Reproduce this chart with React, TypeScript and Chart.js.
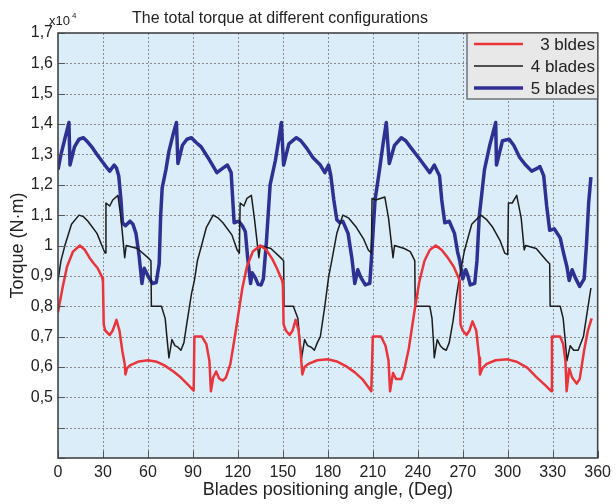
import React, { useEffect, useRef } from "react";
import { Chart, registerables } from "chart.js";

Chart.register(...registerables);

// Values in units of 10^4 N·m
const threeBladeAngles = [
  0, 3, 6, 10, 14.6, 18, 21, 24, 26.5, 29.5, 30, 30.5, 31.5, 34.5, 36.5, 39, 41, 43, 44.5, 45, 46, 48, 54, 60, 66, 71, 77, 82, 87, 90.5,
  91, 96, 99, 101, 102, 103.5, 105.5, 107.5, 110, 112, 115, 118, 120.5, 123, 126, 130, 135, 139, 143, 146, 149.5, 150, 150.5, 152, 154.5,
  156.5, 158.5, 160.5, 162, 163, 164.5, 167, 173, 180, 186, 192, 198, 203, 209, 210, 215.5, 218.5, 220.5, 221.5, 223.5, 225.5, 229, 231,
  234, 238, 241, 244.5, 248, 252, 256, 260, 264, 268, 268.5, 270, 272.5, 274.5, 276.5, 279, 281, 281.5, 283, 286, 292, 300, 306, 313,
  319.5, 325, 329, 329.5, 335, 337, 338.5, 339.3, 341, 343, 346, 348, 351, 353.5, 356,
];
const threeBladeTorque = [
  0.78, 0.86, 0.93, 0.98, 1.0, 0.985, 0.96, 0.94, 0.925, 0.895, 0.88, 0.74, 0.72, 0.705, 0.72, 0.755, 0.72, 0.65, 0.61, 0.575, 0.595, 0.605,
  0.618, 0.622, 0.617, 0.605, 0.585, 0.565, 0.54, 0.522,
  0.7, 0.7, 0.675, 0.62, 0.52, 0.565, 0.585, 0.562, 0.555, 0.565, 0.61, 0.7, 0.78, 0.86, 0.93, 0.98, 1.0, 0.985, 0.955, 0.925, 0.885, 0.87,
  0.74, 0.72, 0.705,
  0.72, 0.755, 0.72, 0.64, 0.575, 0.6, 0.61, 0.622, 0.625, 0.618, 0.603, 0.582, 0.56, 0.52, 0.7, 0.7, 0.67, 0.62, 0.52, 0.58, 0.56, 0.56,
  0.59,
  0.66, 0.79, 0.88, 0.95, 0.985, 1.0, 0.985, 0.96, 0.93, 0.885, 0.74, 0.72, 0.705, 0.72, 0.75, 0.72, 0.63, 0.575, 0.595, 0.61, 0.622, 0.625,
  0.617, 0.598,
  0.565, 0.54, 0.52, 0.7, 0.7, 0.675, 0.62, 0.52, 0.595, 0.565, 0.545, 0.56, 0.655, 0.72, 0.76,
];

const fourBladeAngles = [
  0, 2, 4.6, 9, 14, 17, 20, 26, 30.5, 31.5, 32, 34.5, 36.5, 40, 42, 44.5, 45.5, 53, 60, 62, 62.3, 69, 71.5, 73, 74, 76, 78, 80, 82, 84, 86,
  89, 91, 93, 95.5, 99, 103.5, 107, 110, 116, 119.5, 121, 121.5, 124, 126, 129, 131, 134, 135, 142, 148.5, 150.5, 150.8, 157, 160, 161.5,
  162.5, 164.5, 166.5, 169, 171, 173, 175, 178, 180.5, 183, 186, 190, 194, 199, 204, 207, 209, 209.5, 212, 215, 218, 220.5, 223.5, 224.5,
  231, 235, 238, 238.3, 248, 249.5, 250.5, 251, 253, 255, 257, 259, 261, 263.5, 266, 268, 271, 276, 282, 286, 290, 295, 298, 300, 300.5,
  303, 306, 309, 311, 312, 319, 326, 328, 328.3, 335, 337, 338.5, 339.5, 341.7, 344, 347, 350.5, 353, 355.5,
];
const fourBladeTorque = [
  0.885, 0.95, 1.0, 1.07, 1.1, 1.095, 1.08, 1.04, 0.985, 0.975, 1.14, 1.13, 1.15, 1.165, 1.09, 0.96, 1.0, 0.99, 0.96, 0.95, 0.8, 0.8, 0.76,
  0.68, 0.63, 0.69, 0.67, 0.665, 0.655, 0.68, 0.745,
  0.84, 0.885, 0.95, 0.995, 1.06, 1.1, 1.09, 1.075, 1.035, 0.985, 0.975, 1.14, 1.13, 1.155, 1.165, 1.09, 0.96, 1.0, 0.99, 0.96, 0.95, 0.8,
  0.8, 0.76, 0.68,
  0.63, 0.69, 0.67, 0.665, 0.655, 0.68, 0.7, 0.8, 0.895, 0.96, 1.04, 1.1, 1.09, 1.06, 1.02, 0.985, 0.975, 1.155, 1.15, 1.155, 1.16, 1.09,
  0.96, 1.0,
  0.99, 0.98, 0.95, 0.8, 0.8, 0.76, 0.68, 0.63, 0.69, 0.67, 0.66, 0.655, 0.68, 0.75, 0.84, 0.9, 0.98, 1.07, 1.1, 1.085, 1.06, 1.015, 0.975,
  0.97, 1.14,
  1.14, 1.165, 1.09, 0.985, 1.0, 0.99, 0.95, 0.94, 0.8, 0.8, 0.76, 0.68, 0.62, 0.67, 0.655, 0.655, 0.7, 0.78, 0.86,
];

const fiveBladeAngles = [
  0, 2, 4.5, 7.3, 8, 11, 14, 17, 20, 22.5, 26, 29, 32, 34.5, 37.5, 39, 40.5, 42, 43, 45, 48, 50, 52, 54, 55.5, 56, 57.5, 59, 60.5, 63, 65.5,
  67.5, 68.5, 69.5, 72, 74, 77, 79, 80, 83, 86, 89, 92, 95.5, 100, 106, 110, 113, 115.5, 117.5, 120.5, 123, 125, 126.5, 128.5, 129.5, 131.5,
  133.5, 135.5, 137, 139, 141.5, 145, 147, 149, 150.5, 154, 159, 162, 166, 170, 175, 178, 180.5, 182, 184, 186, 188, 190, 193.5, 196, 198,
  200, 202, 205, 208, 209, 211.5, 214.5, 217, 219, 221, 224.5, 229, 232, 235, 242, 248, 251, 254.5, 256, 258, 261, 264.5, 266.5, 268, 270,
  272, 273.5, 275, 278, 279.5, 281, 284.5, 288, 292, 292.5, 296.5, 301, 304, 308, 312, 316, 320, 321.5, 324, 326, 328, 331, 335, 337.5,
  339.5, 341, 343, 345, 348, 351, 352.5, 354, 355.5,
];
const fiveBladeTorque = [
  1.25, 1.3, 1.35, 1.405, 1.265, 1.325, 1.35, 1.355, 1.34, 1.325, 1.3, 1.28, 1.26, 1.245, 1.265, 1.255, 1.23, 1.15, 1.075, 1.065, 1.08, 1.07,
  1.04, 0.97, 0.9, 0.875, 0.925, 0.91, 0.895, 0.875, 0.878,
  0.94, 1.1, 1.19, 1.25, 1.31, 1.37, 1.405, 1.27, 1.33, 1.35, 1.355, 1.34, 1.325, 1.29, 1.24, 1.255, 1.265, 1.24, 1.075, 1.08, 1.065, 1.045,
  0.96, 0.875, 0.91, 0.895,
  0.872, 0.87, 0.89, 1.01, 1.2, 1.28, 1.34, 1.405, 1.265, 1.335, 1.355, 1.345, 1.32, 1.29, 1.265, 1.24, 1.265, 1.23, 1.15, 1.085, 1.075,
  1.08, 1.04, 0.96, 0.875,
  0.92, 0.895, 0.87, 0.875, 0.95, 1.15, 1.25, 1.34, 1.405, 1.27, 1.33, 1.355, 1.345, 1.325, 1.28, 1.24, 1.265, 1.23, 1.15, 1.075, 1.08, 1.04,
  0.98, 0.95, 0.89,
  0.92, 0.9, 0.87, 0.875, 0.95, 1.095, 1.25, 1.33, 1.405, 1.265, 1.345, 1.35, 1.33, 1.29, 1.265, 1.245, 1.255, 1.26, 1.23, 1.13, 1.05, 1.055,
  1.025, 0.97,
  0.93, 0.885, 0.92, 0.895, 0.865, 0.89, 1.0, 1.14, 1.225,
];

const seriesLabels = ["3 bldes", "4 blades", "5 blades"];
const seriesColors = ["#e8343a", "#1c1c1c", "#2e3192"];
const seriesWidths = [2.5, 1.5, 3.5];

const xTickMin = 0;
const xTickMax = 360;
const xTickStep = 30;
const yTickMin = 0.3;
const yTickMax = 1.7;
const yTickStep = 0.1;
const yLabelledFrom = 0.5;

const chartTitle = "The total torque at different configurations";
const xTitle = "Blades positioning angle, (Deg)";
const yTitle = "Torque (N·m)";

const FONT = "'Liberation Sans', Arial, Helvetica, sans-serif";

const toPoints = (xs: number[], ys: number[]) => xs.map((x, i) => ({ x, y: ys[i] }));

export default function App() {
  const ref = useRef<HTMLCanvasElement | null>(null);

  useEffect(() => {
    if (!ref.current) return;
    const decorPlugin = {
      id: "decor",
      beforeDraw(chart: any) {
        const { ctx, chartArea: a } = chart;
        ctx.save();
        ctx.fillStyle = "#dbedf9";
        ctx.fillRect(a.left, a.top, a.right - a.left, a.bottom - a.top);
        ctx.restore();
      },
      beforeDatasetsDraw(chart: any) {
        const { ctx, chartArea: a } = chart;
        const xs = chart.scales.x;
        const ys = chart.scales.y;
        ctx.save();
        ctx.strokeStyle = "#8c8c8c";
        ctx.lineWidth = 1;
        ctx.setLineDash([2, 2]);
        ctx.beginPath();
        for (let v = xTickMin + xTickStep; v < xTickMax; v += xTickStep) {
          const px = Math.round(xs.getPixelForValue(v)) + 0.5;
          ctx.moveTo(px, a.top);
          ctx.lineTo(px, a.bottom);
        }
        const n = Math.round((yTickMax - yTickMin) / yTickStep);
        for (let i = 1; i < n; i++) {
          const v = yTickMin + i * yTickStep;
          const py = Math.round(ys.getPixelForValue(v)) + 0.5;
          ctx.moveTo(a.left, py);
          ctx.lineTo(a.right, py);
        }
        ctx.stroke();
        ctx.setLineDash([]);
        ctx.restore();
      },
      afterDraw(chart: any) {
        const { ctx, chartArea: a } = chart;
        const xs = chart.scales.x;
        const ys = chart.scales.y;
        ctx.save();
        ctx.setLineDash([]);
        // inward ticks
        ctx.strokeStyle = "#555";
        ctx.lineWidth = 1;
        ctx.beginPath();
        for (let v = xTickMin; v <= xTickMax; v += xTickStep) {
          const px = Math.round(xs.getPixelForValue(v)) + 0.5;
          ctx.moveTo(px, a.bottom);
          ctx.lineTo(px, a.bottom - 7);
        }
        const n = Math.round((yTickMax - yTickMin) / yTickStep);
        for (let i = 0; i <= n; i++) {
          const v = yTickMin + i * yTickStep;
          const py = Math.round(ys.getPixelForValue(v)) + 0.5;
          ctx.moveTo(a.left, py);
          ctx.lineTo(a.left + 7, py);
        }
        ctx.stroke();
        // frame
        ctx.strokeStyle = "#444";
        ctx.lineWidth = 1.6;
        ctx.strokeRect(a.left, a.top, a.right - a.left, a.bottom - a.top);

        ctx.fillStyle = "#222";
        // title
        ctx.font = `16px ${FONT}`;
        ctx.textAlign = "center";
        ctx.textBaseline = "alphabetic";
        ctx.fillText(chartTitle, 280, 23);
        // exponent
        ctx.textAlign = "left";
        ctx.font = `13px ${FONT}`;
        ctx.fillText("x10", 49, 25);
        ctx.font = `8px ${FONT}`;
        ctx.fillText("4", 72, 18);
        // x title
        ctx.font = `18px ${FONT}`;
        ctx.textAlign = "center";
        ctx.fillText(xTitle, (a.left + a.right) / 2, 495);
        // y title
        ctx.save();
        ctx.translate(23, (a.top + a.bottom) / 2);
        ctx.rotate(-Math.PI / 2);
        ctx.fillText(yTitle, 0, 0);
        ctx.restore();

        // legend
        const lx = 467, ly = 33, lw = a.right - 467, lh = 66;
        ctx.fillStyle = "#e8e8e8";
        ctx.fillRect(lx, ly, lw, lh);
        ctx.strokeStyle = "#555";
        ctx.lineWidth = 1.2;
        ctx.strokeRect(lx, ly, lw, lh);
        const rowsY = [44, 66, 88];
        chart.data.datasets.forEach((ds: any, i: number) => {
          ctx.strokeStyle = ds.borderColor;
          ctx.lineWidth = ds.borderWidth;
          ctx.beginPath();
          ctx.moveTo(474, rowsY[i]);
          ctx.lineTo(523, rowsY[i]);
          ctx.stroke();
          ctx.fillStyle = "#222";
          ctx.font = `17px ${FONT}`;
          ctx.textAlign = "right";
          ctx.textBaseline = "middle";
          ctx.fillText(ds.label, 595, rowsY[i] + 1);
        });
        ctx.restore();
      },
    };

    const chart = new Chart(ref.current, {
      type: "line",
      data: {
        datasets: [
          { label: seriesLabels[0], data: toPoints(threeBladeAngles, threeBladeTorque) },
          { label: seriesLabels[1], data: toPoints(fourBladeAngles, fourBladeTorque) },
          { label: seriesLabels[2], data: toPoints(fiveBladeAngles, fiveBladeTorque) },
        ].map((d, i) => ({
          ...d,
          borderColor: seriesColors[i],
          backgroundColor: seriesColors[i],
          borderWidth: seriesWidths[i],
          pointRadius: 0,
          tension: 0,
          fill: false,
          borderJoinStyle: "round" as const,
        })),
      },
      options: {
        responsive: false,
        animation: false,
        layout: { padding: { top: 33, right: 15, left: 0, bottom: 0 } },
        plugins: {
          legend: { display: false },
          title: { display: false },
          tooltip: { enabled: false },
        },
        scales: {
          x: {
            type: "linear",
            min: xTickMin,
            max: xTickMax,
            afterFit: (s: any) => {
              s.height = 46;
            },
            ticks: {
              stepSize: xTickStep,
              padding: 5,
              color: "#222",
              font: { size: 16, family: FONT },
              maxRotation: 0,
            },
            grid: { display: false, drawTicks: false },
            border: { display: false },
          },
          y: {
            type: "linear",
            min: yTickMin,
            max: yTickMax,
            afterFit: (s: any) => {
              s.width = 58;
            },
            ticks: {
              stepSize: yTickStep,
              padding: 5,
              color: "#222",
              font: { size: 16, family: FONT },
              callback: (v: any) => {
                const r = Math.round(Number(v) * 10) / 10;
                if (r < yLabelledFrom - 1e-9) return "";
                return String(r).replace(".", ",");
              },
            },
            grid: { display: false, drawTicks: false },
            border: { display: false },
          },
        },
      },
      plugins: [decorPlugin],
    } as any);
    return () => chart.destroy();
  }, []);

  return (
    <div style={{ position: "fixed", left: 0, top: 0, width: 616, height: 504, background: "#fff" }}>
      <canvas ref={ref} width={616} height={504} style={{ width: 616, height: 504, display: "block" }} />
    </div>
  );
}
